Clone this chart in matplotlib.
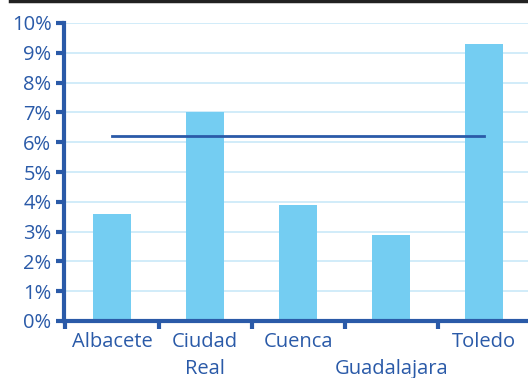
import matplotlib
matplotlib.use("Agg")
import matplotlib.pyplot as plt
from matplotlib.lines import Line2D
from matplotlib.ticker import FixedLocator, PercentFormatter

provinces = ["Albacete", "Ciudad\nReal", "Cuenca", "\nGuadalajara", "Toledo"]
values = [3.6, 7.0, 3.9, 2.9, 9.3]
average = 6.2
yticks = list(range(0, 11))

dark_blue = "#2a5aa8"
bar_color = "#74cdf2"
grid_color = "#c9e9f8"

plt.rcParams['font.family'] = ['Open Sans', 'DejaVu Sans']

fig = plt.figure(figsize=(5.28, 3.78), dpi=100)
ax = fig.add_axes([64 / 528, 57 / 378, 1 - 64 / 528, (321 - 23) / 378])

x = list(range(len(provinces)))
ax.bar(x, values, width=0.41, color=bar_color, zorder=2)
ax.plot([x[0], x[-1]], [average, average], color=dark_blue, lw=2, zorder=3)

ax.set_xlim(-0.516, 4.47)
ax.set_ylim(0, 10)
ax.set_yticks(yticks)
ax.yaxis.set_major_formatter(PercentFormatter(decimals=0))
ax.grid(axis='y', color=grid_color, lw=1.2, zorder=0)
ax.set_axisbelow(True)

ax.xaxis.set_major_locator(FixedLocator([i - 0.5 for i in range(len(provinces))]))
ax.xaxis.set_major_formatter(plt.NullFormatter())
ax.xaxis.set_minor_locator(FixedLocator(x))
ax.set_xticklabels(provinces, minor=True)
ax.tick_params(axis='x', which='minor', length=0, pad=8)
ax.tick_params(axis='x', which='major', length=6, width=3, color=dark_blue)
ax.tick_params(axis='y', length=6, width=3, color=dark_blue, pad=3)
for lab in ax.get_xticklabels(minor=True):
    lab.set_linespacing(1.45)

for lab in ax.get_xticklabels(minor=True) + ax.get_yticklabels():
    lab.set_color(dark_blue)
    lab.set_fontsize(14.5)
    lab.set_fontweight('medium')

for side in ['top', 'right']:
    ax.spines[side].set_visible(False)
for side in ['left', 'bottom']:
    ax.spines[side].set_color(dark_blue)
    ax.spines[side].set_linewidth(3)

fig.add_artist(Line2D([10 / 528, 1], [1 - 1 / 378, 1 - 1 / 378], color="#222222", lw=2.5))

fig.savefig("out.png", dpi=100)
